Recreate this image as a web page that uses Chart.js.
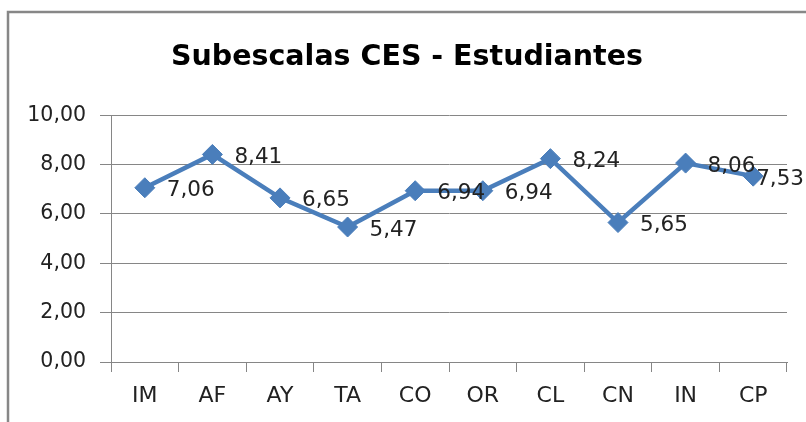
<!DOCTYPE html>
<html>
<head>
<meta charset="utf-8">
<script src="https://cdn.jsdelivr.net/npm/chart.js@4"></script>
<style>
  html, body { margin:0; padding:0; background:#fff; }
  #wrap { position:relative; width:806px; height:422px; }
</style>
</head>
<body>
<div id="wrap"><canvas id="ces_chart" width="806" height="422"></canvas></div>
<script>
// data
let categories = ['IM','AF','AY','TA','CO','OR','CL','CN','IN','CP'] ;
let ceValues = [7.06, 8.41, 6.65, 5.47, 6.94, 6.94, 8.24, 5.65, 8.06, 7.53] ;
let yTicks = [0, 2, 4, 6, 8, 10] ;
let titleText = 'Subescalas CES - Estudiantes' ;

let fontFam = "'DejaVu Sans', 'Open Sans', sans-serif" ;
let lineBlue = '#4a7ebb' ;

function fmtComma (v) {
    return Number(v).toFixed(2).replace('.', ',') ;
}

// outer frame of the excel chart area (only left + top visible)
const framePlugin = {
    id: 'frame',
    beforeDraw (chart) {
        let ctx = chart.ctx ;
        ctx.save() ;
        ctx.fillStyle = '#fff' ;
        ctx.fillRect(0, 0, chart.width, chart.height) ;
        ctx.strokeStyle = '#878787' ;
        ctx.lineWidth = 2.5 ;
        ctx.beginPath() ;
        ctx.moveTo(8, chart.height + 5) ;
        ctx.lineTo(8, 12) ;
        ctx.lineTo(chart.width + 5, 12) ;
        ctx.stroke() ;
        ctx.restore() ;
    }
} ;

// value labels to the right of each point, pulled back in if they would run off the edge
const valueLabels = {
    id: 'valueLabels',
    afterDatasetsDraw (chart) {
        let ctx = chart.ctx ;
        let meta = chart.getDatasetMeta(0) ;
        ctx.save() ;
        ctx.font = '21.5px ' + fontFam ;
        ctx.fillStyle = '#222' ;
        ctx.textAlign = 'left' ;
        ctx.textBaseline = 'middle' ;
        meta.data.forEach((pt, i) => {
            let txt = fmtComma(ceValues[i]) ;
            let w = ctx.measureText(txt).width ;
            let x = Math.min(pt.x + 22, chart.width - w - 2) ;
            ctx.fillText(txt, x, pt.y + 3) ;
        }) ;
        ctx.restore() ;
    }
} ;

let ctx_ces = document.getElementById('ces_chart').getContext('2d') ;
let ces_chart = new Chart(ctx_ces, {
    type: 'line',
    data: {
        labels: categories,
        datasets: [{
            data: ceValues,
            borderColor: lineBlue,
            backgroundColor: lineBlue,
            borderWidth: 4.5,
            pointStyle: 'rectRot',
            pointRadius: 10,
            pointBorderWidth: 1,
            pointBackgroundColor: lineBlue,
            pointBorderColor: lineBlue,
            tension: 0,
        }]
    },
    options: {
        responsive: false,
        animation: false,
        layout: { padding: { left: 27, right: 19, top: 0, bottom: 0 } },
        plugins: {
            legend: { display: false },
            tooltip: { enabled: false },
            title: {
                display: true,
                text: titleText,
                color: '#000',
                font: { family: fontFam, size: 28.5, weight: 'bold', lineHeight: 1.2 },
                padding: { top: 40, bottom: 41 },
            },
        },
        scales: {
            x: {
                type: 'category',
                offset: true,
                grid: {
                    offset: true,
                    drawOnChartArea: false,
                    tickLength: 10,
                    color: '#868686',
                },
                border: { color: '#868686', width: 1 },
                ticks: {
                    color: '#222',
                    padding: 11,
                    font: { family: fontFam, size: 22 },
                },
                afterFit (scale) { scale.height = 60 ; },
            },
            y: {
                min: 0,
                max: 10,
                afterBuildTicks (scale) {
                    scale.ticks = yTicks.map(v => ({ value: v })) ;
                },
                grid: {
                    color: '#868686',
                    tickLength: 11,
                },
                border: { color: '#868686', width: 1 },
                ticks: {
                    color: '#222',
                    padding: 14,
                    font: { family: fontFam, size: 20.5 },
                    callback: function (value) {
                        return fmtComma(value) ;
                    }
                },
                afterFit (scale) { scale.width = 84 ; },
            }
        }
    },
    plugins: [framePlugin, valueLabels]
}) ;
</script>
</body>
</html>
